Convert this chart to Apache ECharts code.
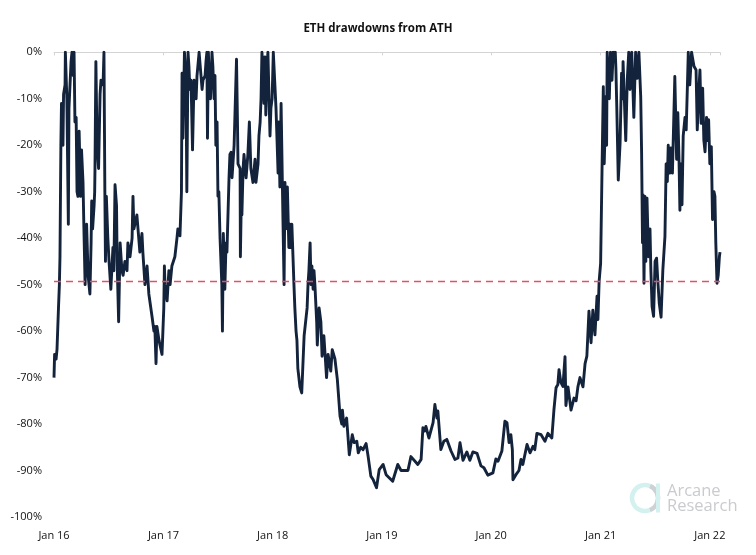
<!DOCTYPE html>
<html><head><meta charset="utf-8">
<style>html,body{margin:0;padding:0;background:#fff}#c{width:756px;height:555px}</style>
<script src="https://cdn.jsdelivr.net/npm/echarts@6/dist/echarts.min.js"></script>
</head><body><div id="c"></div>
<script>
const chartTitle = 'ETH drawdowns from ATH';
const thresholdPct = -49.3;
const yTicks = [0,-10,-20,-30,-40,-50,-60,-70,-80,-90,-100];
// days since 1 Jan 2016
const days2016 = [0,2,7,10,15,18,20,23,25,30,32,35,37,38,42,43,48,50,57,60,64,67,70,74,77,80,84,89,92,97,100,104,109,114,120,124,126,129,134,136,137,140,144,149,154,157,164,167,170,172,175,180,184,190,197,200,204,209,211,216,221,227,231,237,244,247,254,261,264,267,277,287,294,297,304,311,317,328,334,337,341,344,351,361,364];
const vals2016 = [-70,-65,-66,-64,-55,-50,-44,-20,-11,-20,-9,-9,-7,0,0,-10,-37,-12,-2,0,-5,0,-15,-14,-30,-31,-17,-31,-21,-28,-38,-50,-37,-48,-52,-41,-32,-38,-33,-30,-25,-2,-20,-25,-9,-6,-7,0,-30,-45,-31,-40,-45,-51,-42,-47,-28.5,-33,-45,-58,-41,-47,-48,-45,-47,-41,-44,-40,-31,-38,-35,-43,-39,-43,-50,-46,-52,-57,-60,-59,-67,-59,-62,-65,-60];
const days2017 = [367,369,371,378,384,388,394,404,411,414,421,426,428,431,436,440,441,444,448,451,454,458,463,468,475,478,485,488,495,498,505,508,511,513,516,520,523,528,531,535,538,541,545,548,551,555,558,561,563,566,571,575,578,585,588,592,595,602,605,610,613,615,622,623,627,628,632,635,642,648,653,658,665,672,675,682,685,689,692,695,698,702,705,708,712,715,718,722,725,729];
const vals2017 = [-55,-46,-50,-53.5,-47,-50,-46,-44,-40,-38,-39.5,-30,-4.5,-18.5,0,0,-5,-30,0,-3,-8,-6,-21,-6,-10,-5,0,0,-8,-6,-5,-2,0,-18.5,0,-8,-10,0,-3,-10,-5,-20,-15,-31,-30,-40,-40,-50,-60,-39,-51,-41,-43,-27,-22,-21.5,-27,-20,-13,-1.5,-14,-24,-25,-44,-28,-35,-25,-22,-27,-22,-15,-25,-28,-23,-28,-24,-18,-15,-10,0,-3,-11,-1,-13.5,-3,0,-8,-18,-12,-10];
const days2018 = [733,739,742,745,749,751,755,759,765,769,772,775,780,785,789,792,795,802,805,809,812,815,822,828,836,846,849,852,856,859,862,866,869,872,878,880,886,892,896,902,911,916,925,930,939,947,956,962,964,969,978,987,997,1003,1012,1017,1025,1033,1043,1050,1059,1067,1078,1084,1087];
const vals2018 = [0,0,-12,-18,-26,-15,-29,-11,-35,-50,-28,-38,-29,-42,-37,-42,-37,-50,-55,-60,-62,-68,-72,-73.3,-61,-55,-50,-47,-41,-50,-46,-51,-47,-50,-58,-63,-55,-58,-65.4,-61,-70,-65,-68.6,-64,-66,-70.4,-78.3,-80,-77,-80.5,-78.7,-86.6,-82.3,-84,-83.7,-86.2,-85,-85.5,-84.2,-87,-91.2,-92,-93.7,-93.7,-89.8];
const days2019 = [1100,1110,1132,1149,1160,1183,1193,1216,1227,1233,1239,1243,1253,1267,1273,1280,1283,1293,1303,1313,1327,1340,1350,1357,1367,1380,1390,1400,1414,1427,1437,1450];
const vals2019 = [-88.7,-90.9,-92.3,-88.7,-90,-90,-87,-88.7,-87.6,-80.8,-81.5,-80.5,-83,-79.7,-75.8,-78.7,-77.2,-85.5,-83.7,-83.3,-85.8,-87.6,-87.3,-84,-87.8,-86,-87.8,-86,-86.3,-89,-89.4,-91];
const days2020 = [1467,1477,1484,1497,1507,1514,1521,1527,1532,1534,1544,1554,1561,1567,1581,1591,1601,1607,1614,1628,1641,1651,1664,1671,1678,1684,1688,1694,1701,1708,1711,1718,1724,1728,1738,1745,1751,1758,1768,1775,1781,1788,1795,1801,1808,1815,1818,1822];
const vals2020 = [-90.5,-87.5,-88,-85.8,-79.4,-79.7,-84,-82.3,-85.5,-92,-90.9,-90,-87.6,-88.7,-84.4,-86.2,-84.8,-85.5,-82,-82.3,-83.7,-82,-83,-76.9,-72.2,-71.5,-68.3,-71,-71.9,-65.5,-76,-72,-72,-77,-74.4,-75,-72,-70,-72,-67,-65.4,-55.7,-62.5,-55.5,-60.8,-52.5,-57.5,-49.3];
const days2021 = [1827,1832,1836,1839,1845,1847,1849,1856,1860,1865,1869,1876,1878,1881,1886,1892,1897,1901,1902,1906,1911,1916,1921,1925,1931,1938,1944,1949,1955,1961,1964,1967,1969,1972,1975,1978,1982,1987,1992,1995,1999,2004,2009,2014,2018,2023,2029,2035,2042,2046,2050,2053,2058,2062,2067,2075,2078,2081,2085,2089,2092,2095,2099,2103,2109,2113,2117,2120,2125,2131,2139,2146,2150,2156,2159,2163,2168,2172,2176,2181,2185,2188];
const vals2021 = [-45.4,-24,-7.4,-24,-9.5,-20,0,-10,0,-6,0,0,-3.4,-11.7,-27.5,-19.6,-4.5,-10,-2,-9.5,-19,-6,0,-8,0,-14,0,-5.6,0,-9.5,-21.7,-41,-30.7,-49.7,-31,-45,-31.4,-44,-38,-47,-54.7,-56.8,-45,-44.3,-49,-54,-57,-46.8,-39.6,-24,-27.8,-20,-26,-20.6,-26,-5.2,-5.5,-23,-13,-23,-34,-24,-32.8,-18,-14,-16.7,-7.4,0,-7,0,-3,-3.8,-16.7,-7.4,-3.8,-15.3,-7.7,-18.9,-21.4,-14,-19,-14.5];
const days2022 = [2192,2197,2201,2206,2209,2212,2216,2220,2224,2226];
const vals2022 = [-24,-20.3,-36,-30,-31,-41,-49.7,-48,-44,-43];

const allDays = [].concat(days2016,days2017,days2018,days2019,days2020,days2021,days2022);
const allVals = [].concat(vals2016,vals2017,vals2018,vals2019,vals2020,vals2021,vals2022);
const toDate = d => new Date(2016,0,1+d).getTime();
const seriesData = allDays.map((d,i)=>[toDate(d),allVals[i]]);
const xMin = toDate(0), xMax = toDate(2226);
const monthNames = ['Jan','Feb','Mar','Apr','May','Jun','Jul','Aug','Sep','Oct','Nov','Dec'];
const YEAR = 365*24*3600*1000;
const font = '"Open Sans", sans-serif';
const txt = '#111';

const chart = echarts.init(document.getElementById('c'),null,{renderer:'canvas'});
chart.setOption({
  animation:false,
  backgroundColor:'#fff',
  title:{text:chartTitle,left:'center',top:18,textStyle:{fontFamily:font,fontSize:11.5,fontWeight:'bold',color:'#111'}},
  grid:{left:54,right:36,top:52.3,bottom:38},
  xAxis:[
    {type:'time',position:'bottom',min:xMin,max:xMax,minInterval:YEAR,maxInterval:YEAR*1.01,
     axisLine:{show:false},axisTick:{show:false},splitLine:{show:false},
     axisLabel:{margin:13,fontFamily:font,fontSize:11,color:txt,showMinLabel:true,hideOverlap:false,
       formatter:v=>{const d=new Date(v);return monthNames[d.getMonth()]+' '+String(d.getFullYear()).slice(2);}}},
    {type:'time',position:'top',min:xMin,max:xMax,minInterval:YEAR,maxInterval:YEAR*1.01,
     axisLine:{show:true,lineStyle:{color:'#d4d4d4',width:1}},
     axisTick:{show:true,inside:true,length:3,lineStyle:{color:'#d4d4d4'}},
     axisLabel:{show:false},splitLine:{show:false}}
  ],
  yAxis:{type:'value',min:-100,max:0,interval:10,
    axisLine:{show:false},axisTick:{show:false},splitLine:{show:false},
    axisLabel:{margin:12,fontFamily:font,fontSize:11,color:txt,formatter:v=>yTicks.includes(v)?v+'%':''}},
  series:[{
    type:'line',data:seriesData,xAxisIndex:0,showSymbol:false,symbol:'none',
    lineStyle:{color:'#14233c',width:2.9,join:'round'},
    z:3,
    markLine:{silent:true,symbol:'none',label:{show:false},animation:false,z:5,
      lineStyle:{color:'#d9536b',type:[7,5],width:1.3},
      data:[[{coord:[xMin,thresholdPct]},{coord:[xMax,thresholdPct]}]]}
  }],
  graphic:[
    {type:'arc',shape:{cx:645,cy:498,r:13,startAngle:-1.2,endAngle:1.2},style:{stroke:'#cfd2d5',lineWidth:4.5,fill:null},silent:true},
    {type:'arc',shape:{cx:645,cy:498,r:13,startAngle:1.2,endAngle:5.1},style:{stroke:'#d3f1ef',lineWidth:4.5,fill:null},silent:true},
    {type:'rect',shape:{x:656,y:483.5,width:4,height:29},style:{fill:'#d3f1ef'},silent:true},
    {type:'text',left:667,top:483,style:{text:'Arcane',fontFamily:'"Open Sans",sans-serif',fontSize:16.5,fontWeight:'normal',fill:'#c9cbcf'},silent:true},
    {type:'text',left:667,top:498,style:{text:'Research',fontFamily:'"Open Sans",sans-serif',fontSize:16.5,fontWeight:'normal',fill:'#c9cbcf'},silent:true}
  ]
});
</script></body></html>
